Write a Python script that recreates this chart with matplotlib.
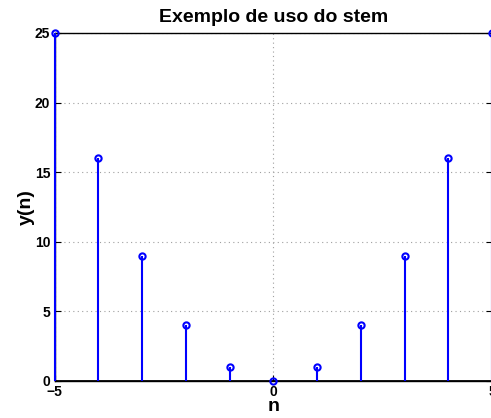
import matplotlib
matplotlib.use("Agg")
import matplotlib.pyplot as plt

n = [-5, -4, -3, -2, -1, 0, 1, 2, 3, 4, 5]
y = [25, 16, 9, 4, 1, 0, 1, 4, 9, 16, 25]
xticks = [-5, 0, 5]
yticks = [0, 5, 10, 15, 20, 25]

plt.rcParams['font.family'] = ['Liberation Sans', 'DejaVu Sans']
plt.rcParams['font.weight'] = 'bold'

fig = plt.figure(figsize=(4.91, 4.18), dpi=100)
ax = fig.add_axes([54.5 / 491, 37 / 418, 437.5 / 491, 348 / 418])

markers, stems, base = ax.stem(n, y, linefmt='b-', markerfmt='bo', basefmt='k-')
plt.setp(stems, linewidth=1.5, color='#0000ff', clip_on=False, zorder=3)
plt.setp(markers, markersize=4.5, markerfacecolor='none', markeredgecolor='#0000ff',
         markeredgewidth=1.5, zorder=4, clip_on=False)
plt.setp(base, linewidth=2, color='black')

ax.set_xlim(-5, 5)
ax.set_ylim(0, 25)
ax.set_xticks(xticks)
ax.set_yticks(yticks)
ax.set_xticklabels(['\u22125', '0', '5'])
ax.grid(True, linestyle=(0, (1, 3)), color='#a0a0a0', linewidth=0.8)
ax.tick_params(direction='in', length=4, labelsize=10, right=True, top=False, pad=3)
for lbl in ax.get_xticklabels() + ax.get_yticklabels():
    lbl.set_fontweight('bold')
for s in ax.spines.values():
    s.set_color('black')
    s.set_linewidth(1.0)

ax.set_title('Exemplo de uso do stem', fontsize=14, fontweight='bold', pad=8)
ax.set_xlabel('n', fontsize=14, fontweight='bold', labelpad=-1)
ax.set_ylabel('y(n)', fontsize=14, fontweight='bold', labelpad=0)

fig.savefig('out.png', dpi=100)
